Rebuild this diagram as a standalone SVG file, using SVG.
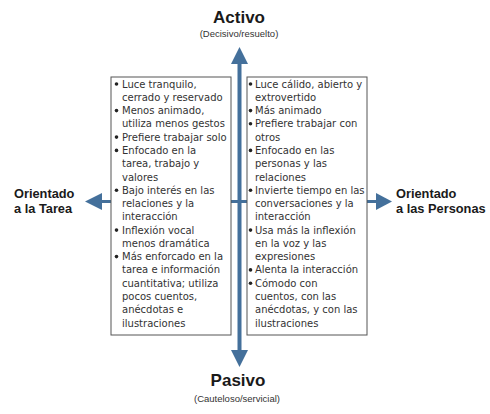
<svg xmlns="http://www.w3.org/2000/svg" width="490" height="414" viewBox="0 0 490 414">
<style>
.ax{stroke:#44709b;fill:none}
.ah{fill:#44709b}
.box{fill:#fff;stroke:#555;stroke-width:1}
.t{font-family:"DejaVu Sans",sans-serif;font-size:10px;fill:#333}
.b{fill:#222}
.h1{font-family:"Liberation Sans",Arial,sans-serif;font-weight:bold;font-size:17px;fill:#1a1a1a;text-anchor:middle}
.h2{font-family:"Liberation Sans",Arial,sans-serif;font-size:9.5px;fill:#333;text-anchor:middle}
.h3{font-family:"Liberation Sans",Arial,sans-serif;font-weight:bold;font-size:12.8px;fill:#1a1a1a}
</style>
<rect width="490" height="414" fill="#fff"/>
<g id="connectors">
<line class="ax" x1="239.5" y1="62" x2="239.5" y2="352" stroke-width="4"/>
<polygon class="ah" points="239.5,47 231,64 248,64"/>
<polygon class="ah" points="231,350 248,350 239.5,367"/>
<line class="ax" x1="100" y1="201.5" x2="378" y2="201.5" stroke-width="3"/>
<polygon class="ah" points="85,201.5 102,193 102,210"/>
<polygon class="ah" points="392,201.5 376,193 376,210"/>
</g>
<g id="activo">
<text class="h1" x="239" y="23">Activo</text>
<text class="h2" x="239" y="37">(Decisivo/resuelto)</text>
</g>
<g id="pasivo">
<text class="h1" x="238" y="386">Pasivo</text>
<text class="h2" x="237" y="402">(Cauteloso/servicial)</text>
</g>
<g id="tarea">
<text class="h3" x="14" y="198">Orientado</text>
<text class="h3" x="14" y="213">a la Tarea</text>
</g>
<g id="personas">
<text class="h3" x="396" y="198">Orientado</text>
<text class="h3" x="396" y="213">a las Personas</text>
</g>
<g id="left-box">
<rect class="box" x="111" y="77" width="120" height="258"/>
<g class="b">
<circle cx="116.5" cy="84" r="1.8"/>
<circle cx="116.5" cy="110.6" r="1.8"/>
<circle cx="116.5" cy="137.1" r="1.8"/>
<circle cx="116.5" cy="150.4" r="1.8"/>
<circle cx="116.5" cy="190.2" r="1.8"/>
<circle cx="116.5" cy="230.1" r="1.8"/>
<circle cx="116.5" cy="256.6" r="1.8"/>
</g>
<text class="t">
<tspan x="122" y="87.5">Luce tranquilo,</tspan>
<tspan x="122" y="100.8">cerrado y reservado</tspan>
<tspan x="122" y="114.1">Menos animado,</tspan>
<tspan x="122" y="127.3">utiliza menos gestos</tspan>
<tspan x="122" y="140.6">Prefiere trabajar solo</tspan>
<tspan x="122" y="153.9">Enfocado en la</tspan>
<tspan x="122" y="167.2">tarea, trabajo y</tspan>
<tspan x="122" y="180.5">valores</tspan>
<tspan x="122" y="193.7">Bajo interés en las</tspan>
<tspan x="122" y="207">relaciones y la</tspan>
<tspan x="122" y="220.3">interacción</tspan>
<tspan x="122" y="233.6">Inflexión vocal</tspan>
<tspan x="122" y="246.9">menos dramática</tspan>
<tspan x="122" y="260.1">Más enforcado en la</tspan>
<tspan x="122" y="273.4">tarea e información</tspan>
<tspan x="122" y="286.7">cuantitativa; utiliza</tspan>
<tspan x="122" y="300">pocos cuentos,</tspan>
<tspan x="122" y="313.3">anécdotas e</tspan>
<tspan x="122" y="326.5">ilustraciones</tspan>
</text>
</g>
<g id="right-box">
<rect class="box" x="247" y="77" width="120" height="258"/>
<g class="b">
<circle cx="250.5" cy="84" r="1.8"/>
<circle cx="250.5" cy="110.6" r="1.8"/>
<circle cx="250.5" cy="123.8" r="1.8"/>
<circle cx="250.5" cy="150.4" r="1.8"/>
<circle cx="250.5" cy="190.2" r="1.8"/>
<circle cx="250.5" cy="230.1" r="1.8"/>
<circle cx="250.5" cy="269.9" r="1.8"/>
<circle cx="250.5" cy="283.2" r="1.8"/>
</g>
<text class="t">
<tspan x="255" y="87.5">Luce cálido, abierto y</tspan>
<tspan x="255" y="100.8">extrovertido</tspan>
<tspan x="255" y="114.1">Más animado</tspan>
<tspan x="255" y="127.3">Prefiere trabajar con</tspan>
<tspan x="255" y="140.6">otros</tspan>
<tspan x="255" y="153.9">Enfocado en las</tspan>
<tspan x="255" y="167.2">personas y las</tspan>
<tspan x="255" y="180.5">relaciones</tspan>
<tspan x="255" y="193.7">Invierte tiempo en las</tspan>
<tspan x="255" y="207">conversaciones y la</tspan>
<tspan x="255" y="220.3">interacción</tspan>
<tspan x="255" y="233.6">Usa más la inflexión</tspan>
<tspan x="255" y="246.9">en la voz y las</tspan>
<tspan x="255" y="260.1">expresiones</tspan>
<tspan x="255" y="273.4">Alenta la interacción</tspan>
<tspan x="255" y="286.7">Cómodo con</tspan>
<tspan x="255" y="300">cuentos, con las</tspan>
<tspan x="255" y="313.3">anécdotas, y con las</tspan>
<tspan x="255" y="326.5">ilustraciones</tspan>
</text>
</g>
</svg>
